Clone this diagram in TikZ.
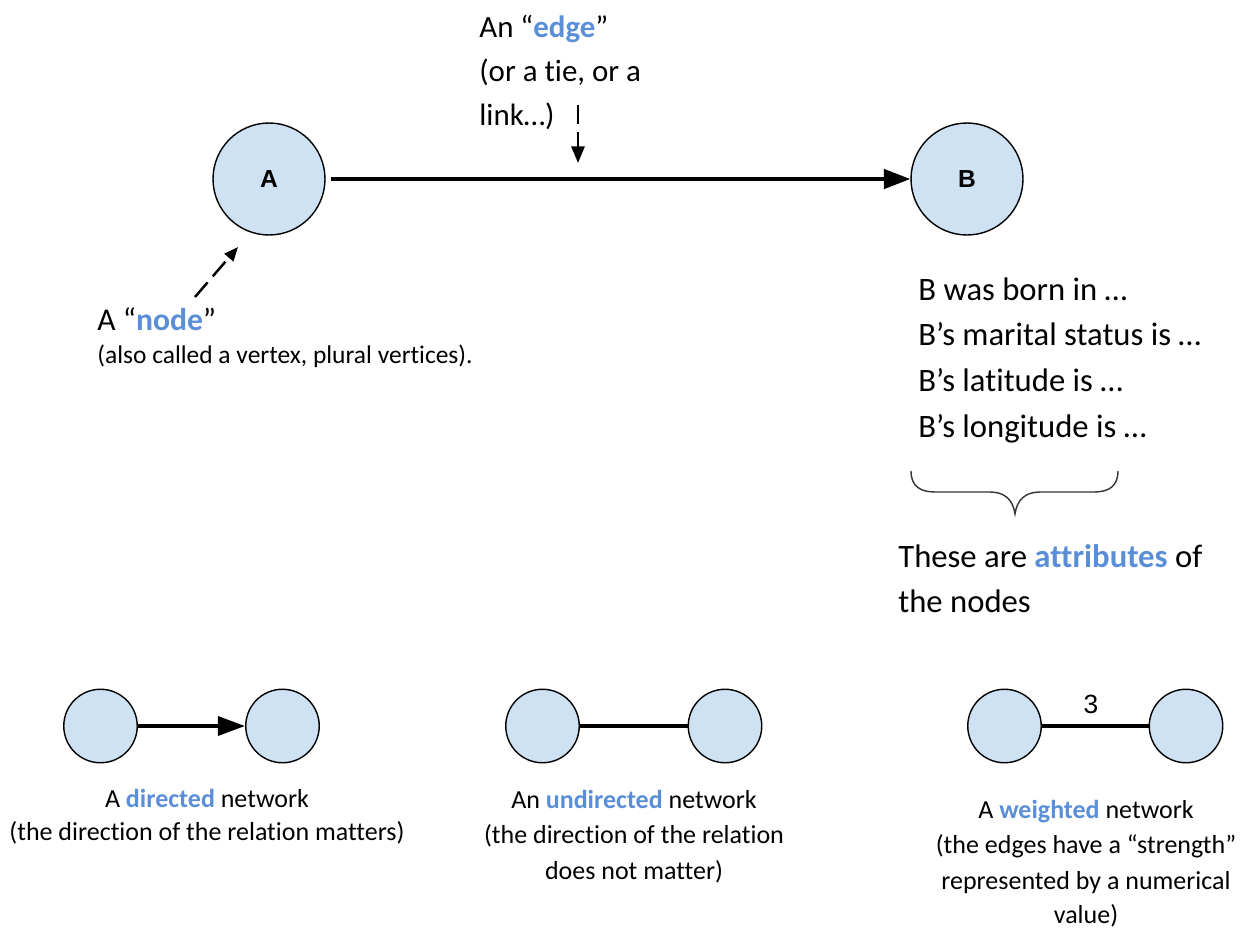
\documentclass[tikz,border=0pt]{standalone}
\usepackage{fontspec}
\setmainfont{Carlito}[Ligatures=NoCommon]
\newfontfamily\arialfont{Liberation Sans}
\usetikzlibrary{arrows.meta}
\definecolor{nodefill}{HTML}{CFE2F3}
\definecolor{keyblue}{HTML}{5A8FD8}
\newcommand{\kw}[1]{\textcolor{keyblue}{\textbf{#1}}}

\begin{document}
\begin{tikzpicture}[x=0.02cm, y=-0.02cm,
  vertex/.style={circle, draw, fill=nodefill, line width=0.8pt, inner sep=0pt,
    minimum size=2.24cm, font=\arialfont\bfseries\fontsize{14}{16}\selectfont},
  smallvertex/.style={vertex, minimum size=1.47cm},
  bigtext/.style={inner sep=0pt, anchor=base west, font=\fontsize{17.6}{21}\selectfont},
  attrtext/.style={bigtext, font=\fontsize{18.6}{22}\selectfont},
  midtext/.style={bigtext, font=\fontsize{18}{21}\selectfont},
  smalltext/.style={inner sep=0pt, anchor=base west, font=\fontsize{14.5}{17}\selectfont},
  captext/.style={inner sep=0pt, anchor=base, font=\fontsize{14.8}{17}\selectfont},
  hint/.style={dashed, line width=1.4pt, dash pattern=on 11pt off 4.5pt},
  edgeline/.style={line width=2pt}
]
\useasboundingbox (0,0) rectangle (1244,930);

\node[vertex] (A) at (269,179) {A};
\node[vertex] (B) at (967,179) {B};
\draw[edgeline, -{Triangle[length=15pt, width=11pt]}, shorten <=3pt] (A) -- (B);

\node[bigtext] (edge1) at (479,37) {An “\kw{edge}”};
\node[bigtext] (edge2) at (479,81) {(or a tie, or a};
\node[bigtext] (edge3) at (479,125) {link…)};
\coordinate (edgetail) at (578,105);
\coordinate (edgetip) at (578,163);
\draw[hint, -{Triangle[length=9.5pt, width=7.5pt]}] (edgetail) -- (edgetip);

\node[midtext] (node1) at (97,330) {A “\kw{node}”};
\node[smalltext] (node2) at (97,363) {(also called a vertex, plural vertices).};
\coordinate (nodetail) at (195,297);
\coordinate (nodetip) at (238,247);
\draw[hint, -{Triangle[length=8pt, width=6.5pt]}] (nodetail) -- (nodetip);

\node[attrtext] (attr1) at (918,300) {B was born in …};
\node[attrtext] (attr2) at (918,345) {B’s marital status is …};
\node[attrtext] (attr3) at (918,391) {B’s latitude is …};
\node[attrtext] (attr4) at (918,437) {B’s longitude is …};

\draw[line width=0.8pt, black!80] (911,471) .. controls (911,486) and (920,492) .. (935,492)
  -- (990,492) .. controls (1005,492) and (1013,500) .. (1015,514)
  .. controls (1017,500) and (1025,492) .. (1040,492) -- (1094,492)
  .. controls (1109,492) and (1118,486) .. (1118,471);

\node[attrtext] (attr5) at (898,567) {These are \kw{attributes} of};
\node[attrtext] (attr6) at (898,612) {the nodes};

\node[smallvertex] (d1) at (100.5,726) {};
\node[smallvertex] (d2) at (282.5,726) {};
\draw[line width=2.2pt, -{Triangle[length=15.5pt, width=10.8pt]}] (d1) -- (d2);
\node[captext] (dir1) at (207,807) {A \kw{directed} network};
\node[captext] (dir2) at (207,840) {(the direction of the relation matters)};

\node[smallvertex] (u1) at (542.5,726) {};
\node[smallvertex] (u2) at (725,726) {};
\draw[line width=2.2pt] (u1) -- (u2);
\node[captext] (und1) at (634,808) {An \kw{undirected} network};
\node[captext] (und2) at (634,843) {(the direction of the relation};
\node[captext] (und3) at (634,879) {does not matter)};

\node[smallvertex] (w1) at (1004.5,726) {};
\node[smallvertex] (w2) at (1186,726) {};
\draw[line width=2.2pt] (w1) -- node[pos=0.46, above=6pt, inner sep=0pt, font=\arialfont\fontsize{15}{17}\selectfont] (weight) {3} (w2);
\node[captext] (wei1) at (1086,818) {A \kw{weighted} network};
\node[captext] (wei2) at (1086,853) {(the edges have a “strength”};
\node[captext] (wei3) at (1086,889) {represented by a numerical};
\node[captext] (wei4) at (1086,923) {value)};

\end{tikzpicture}
\end{document}
